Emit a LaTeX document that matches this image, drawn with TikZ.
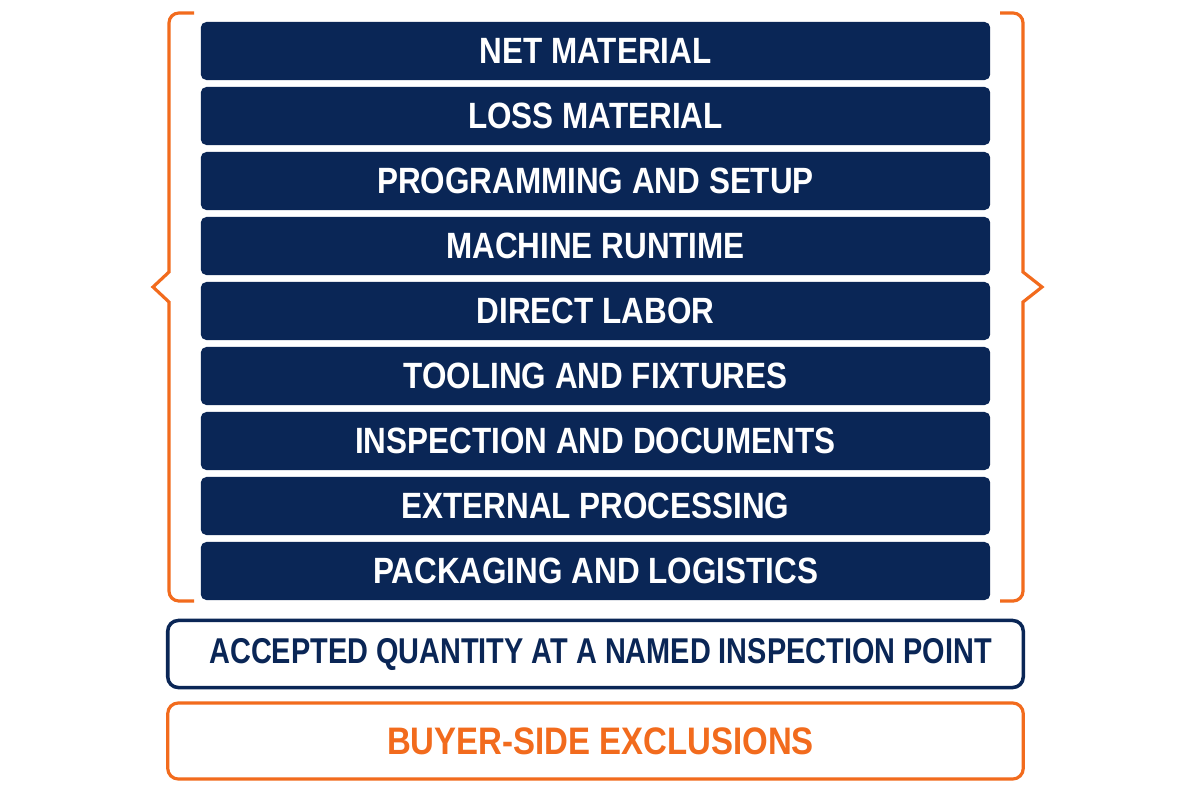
\documentclass[tikz,border=0pt]{standalone}
\usepackage{fontspec}
\setmainfont{Liberation Sans}[FakeStretch=0.86]
\newfontfamily\narrowfont{Liberation Sans}[FakeStretch=0.805]
\usepackage{tikz}

\definecolor{navy}{RGB}{10,38,86}
\definecolor{brace}{RGB}{242,107,29}

\tikzset{
	costbar/.style={fill=navy, rounded corners=1.6pt, minimum width=7.89cm, minimum height=0.58cm,
		text=white, font=\bfseries\fontsize{10.4}{12}\selectfont, inner sep=0pt},
	basebox/.style={draw=navy, line width=1pt, rounded corners=3pt, minimum width=8.55cm, minimum height=0.67cm,
		text=navy, font=\narrowfont\bfseries\fontsize{10.2}{12}\selectfont, inner sep=0pt},
	exclbox/.style={draw=brace, line width=0.9pt, rounded corners=3pt, minimum width=8.55cm, minimum height=0.76cm,
		text=brace, font=\bfseries\fontsize{10.9}{12}\selectfont, inner sep=0pt},
	bracket/.style={draw=brace, line width=0.9pt, line join=miter},
}

\begin{document}
\begin{tikzpicture}[x=0.01cm, y=-0.01cm]
	% Kuvan rajat
	\useasboundingbox[fill=white] (0,0) rectangle (1200,800);
	
	% Kustannuserät
	\foreach \txt [count=\i] in
		{NET MATERIAL, LOSS MATERIAL, PROGRAMMING AND SETUP, MACHINE RUNTIME, DIRECT LABOR,
		 TOOLING AND FIXTURES, INSPECTION AND DOCUMENTS, EXTERNAL PROCESSING,
		 PACKAGING AND LOGISTICS}
		\node[costbar] (c\i) at (595.5,{51+65*(\i-1)}) {\txt};
	
	% Hyväksytty määrä ja poissulut
	\node[basebox] (accepted) at (595.5,654) {\hspace{0.1cm}ACCEPTED QUANTITY AT A NAMED INSPECTION POINT};
	\node[exclbox] (excl) at (595.5,741) {\hspace{0.1cm}BUYER-SIDE EXCLUSIONS};
	
	% Aaltosulut
	\draw[bracket]
		(194,13) [rounded corners=2.8pt] -| (169,100) [sharp corners] -- (169,272) -- (153,287)
		-- (169,302) -- (169,500) [rounded corners=2.8pt] |- (194,601);
	\draw[bracket]
		(1000,13) [rounded corners=2.8pt] -| (1023,100) [sharp corners] -- (1023,272) -- (1042,287)
		-- (1023,302) -- (1023,500) [rounded corners=2.8pt] |- (1000,601);
\end{tikzpicture}
\end{document}
